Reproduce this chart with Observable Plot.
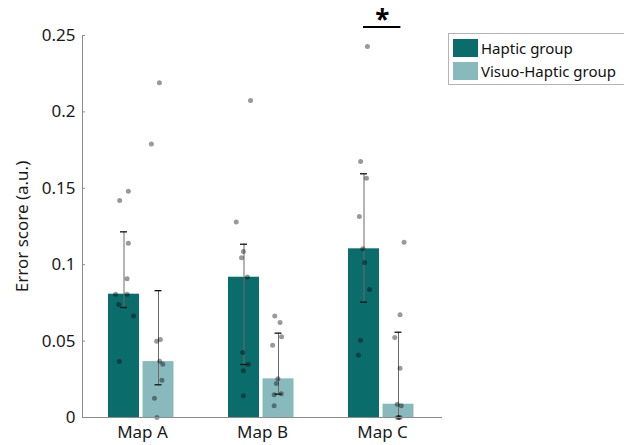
<!DOCTYPE html>
<html>
<head>
<meta charset="utf-8">
<script src="https://cdn.jsdelivr.net/npm/d3@7"></script>
<script src="https://cdn.jsdelivr.net/npm/@observablehq/plot@0.6"></script>
<style>
  html, body { margin: 0; padding: 0; background: #fff; overflow: hidden; }
  #wrap { position: relative; width: 624px; height: 445px; font-family: "Noto Sans", sans-serif; overflow: hidden; }
  #legend { position: absolute; left: 448px; top: 33px; width: 200px; height: 52px; border: 1px solid #b4b4b4; background: #fff; box-sizing: border-box; }
  .item { position: absolute; left: 4px; height: 18px; display: flex; align-items: center; font-size: 15px; color: #111; white-space: nowrap; }
  .sw { width: 25px; height: 18px; margin-right: 3px; }
</style>
</head>
<body>
<div id="wrap"><div id="chart"></div><div id="legend"></div></div>
<script>
// ---- data ----
const maps = ["Map A", "Map B", "Map C"];
const groups = ["Haptic group", "Visuo-Haptic group"];
const groupColors = ["#0b6c6c", "#88babd"];
const yTicks = [0, 0.05, 0.1, 0.15, 0.2, 0.25];

// medians (bar heights)
const hapticMedian = [0.0807, 0.0918, 0.1104];
const visuoMedian  = [0.0366, 0.0253, 0.0087];
// error-bar ranges
const hapticLow  = [0.0720, 0.0347, 0.0755];
const hapticHigh = [0.1215, 0.1134, 0.1595];
const visuoLow   = [0.0214, 0.0153, 0.0000];
const visuoHigh  = [0.0830, 0.0552, 0.0558];

// individual participants
const hapticPoints = [
  [0.148, 0.142, 0.114, 0.0908, 0.0807, 0.0807, 0.074, 0.0665, 0.0366],
  [0.2075, 0.128, 0.1086, 0.1045, 0.092, 0.0425, 0.0349, 0.0306, 0.0142],
  [0.2428, 0.1675, 0.1566, 0.1315, 0.1104, 0.1014, 0.0838, 0.0506, 0.0408]
];
const visuoPoints = [
  [0.219, 0.179, 0.051, 0.0499, 0.0368, 0.0349, 0.0244, 0.0126, 0.0],
  [0.0665, 0.0622, 0.0528, 0.0473, 0.0253, 0.0222, 0.0155, 0.0149, 0.0077],
  [0.1147, 0.0672, 0.0524, 0.0323, 0.0087, 0.0077, 0.0, 0.0, 0.0]
];
// horizontal jitter of each point (fraction of bar width)
const hapticJitter = [
  [0.14, -0.14, 0.14, 0.10, -0.27, 0.10, -0.17, 0.31, -0.15],
  [0.21, -0.25, -0.02, -0.08, 0.11, -0.04, 0.14, -0.02, -0.02],
  [0.11, -0.11, 0.08, -0.15, -0.04, 0.02, 0.18, -0.11, -0.18]
];
const visuoJitter = [
  [0.03, -0.23, 0.06, -0.06, 0.04, 0.14, 0.11, -0.13, -0.05],
  [-0.12, 0.05, 0.10, -0.19, -0.02, -0.07, 0.09, -0.14, -0.14],
  [0.18, 0.05, -0.12, 0.05, -0.04, 0.09, -0.02, 0.05, 0.0]
];
const significance = {map: "Map C", label: "*"};

// ---- layout (in x units, one unit per map) ----
const barW = 31 / 120;
const groupOffset = [-18.5 / 120, 16 / 120];
const capHalf = 3.5 / 120;

const medians = [hapticMedian, visuoMedian];
const lows = [hapticLow, visuoLow];
const highs = [hapticHigh, visuoHigh];
const pts = [hapticPoints, visuoPoints];
const jit = [hapticJitter, visuoJitter];

const bars = [], errs = [], dots = [];
maps.forEach((m, i) => {
  groups.forEach((g, k) => {
    const c = i + 1 + groupOffset[k];
    bars.push({map: m, group: g, x1: c - barW / 2, x2: c + barW / 2, value: medians[k][i]});
    errs.push({c, lo: lows[k][i], hi: highs[k][i]});
    pts[k][i].forEach((v, j) => dots.push({x: c + jit[k][i][j] * barW, y: v}));
  });
});
const si = maps.indexOf(significance.map) + 1;
const sigLine = [{x1: si + groupOffset[0] - 0.004, x2: si + groupOffset[1] + 0.02, y: 0.2555}];
const sigText = [{x: si - 0.002, y: 0.2595, label: significance.label}];

const chart = Plot.plot({
  width: 624,
  height: 445,
  marginLeft: 82,
  marginRight: 182,
  marginTop: 35,
  marginBottom: 28,
  style: {fontFamily: "Noto Sans, sans-serif", fontSize: "17px", color: "#1a1a1a", background: "white", overflow: "visible"},
  x: {domain: [0.5, 3.5]},
  y: {domain: [0, 0.25]},
  color: {domain: groups, range: groupColors},
  marks: [
    Plot.rectY(bars, {x1: "x1", x2: "x2", y1: 0, y2: "value", fill: "group"}),
    Plot.ruleX(errs, {x: "c", y1: "lo", y2: "hi", stroke: "#6a6a6a", strokeWidth: 1}),
    Plot.ruleY(errs, {x1: d => d.c - capHalf, x2: d => d.c + capHalf, y: "lo", stroke: "#111", strokeWidth: 1.3}),
    Plot.ruleY(errs, {x1: d => d.c - capHalf, x2: d => d.c + capHalf, y: "hi", stroke: "#111", strokeWidth: 1.3}),
    Plot.dot(dots, {x: "x", y: "y", r: 2.5, fill: "black", fillOpacity: 0.4, stroke: "none"}),
    // axes lines
    Plot.ruleY([0], {x1: 0.5, x2: 3.5, stroke: "#8c8c8c", strokeWidth: 1}),
    Plot.ruleX([0.5], {y1: 0, y2: 0.25, stroke: "#8c8c8c", strokeWidth: 1}),
    Plot.ruleY(yTicks, {x1: 0.5, x2: 0.5 + 3 / 120, y: d => d, stroke: "#8c8c8c"}),
    Plot.axisY(yTicks, {tickSize: 0, tickPadding: 7, fontSize: 17, label: null, tickFormat: d => String(+d.toFixed(2))}),
    Plot.axisX([1, 2, 3], {tickSize: 0, tickPadding: 8, fontSize: 17, label: null, tickFormat: d => maps[d - 1]}),
    Plot.text(["Error score (a.u.)"], {frameAnchor: "left", textAnchor: "middle", dx: -60, rotate: -90, fontSize: 17, fill: "#1a1a1a"}),
    // significance
    Plot.ruleY(sigLine, {x1: "x1", x2: "x2", y: "y", stroke: "black", strokeWidth: 2, clip: false}),
    Plot.text(sigText, {x: "x", y: "y", text: "label", fontSize: 26, fontWeight: "bold", fill: "black", clip: false})
  ]
});
document.getElementById("chart").appendChild(chart);

const legend = document.getElementById("legend");
groups.forEach((g, k) => {
  const it = document.createElement("div");
  it.className = "item";
  it.style.top = (5 + k * 23) + "px";
  const sw = document.createElement("div");
  sw.className = "sw";
  sw.style.background = groupColors[k];
  it.appendChild(sw);
  const t = document.createElement("span");
  t.textContent = g;
  it.appendChild(t);
  legend.appendChild(it);
});
</script>
</body>
</html>
